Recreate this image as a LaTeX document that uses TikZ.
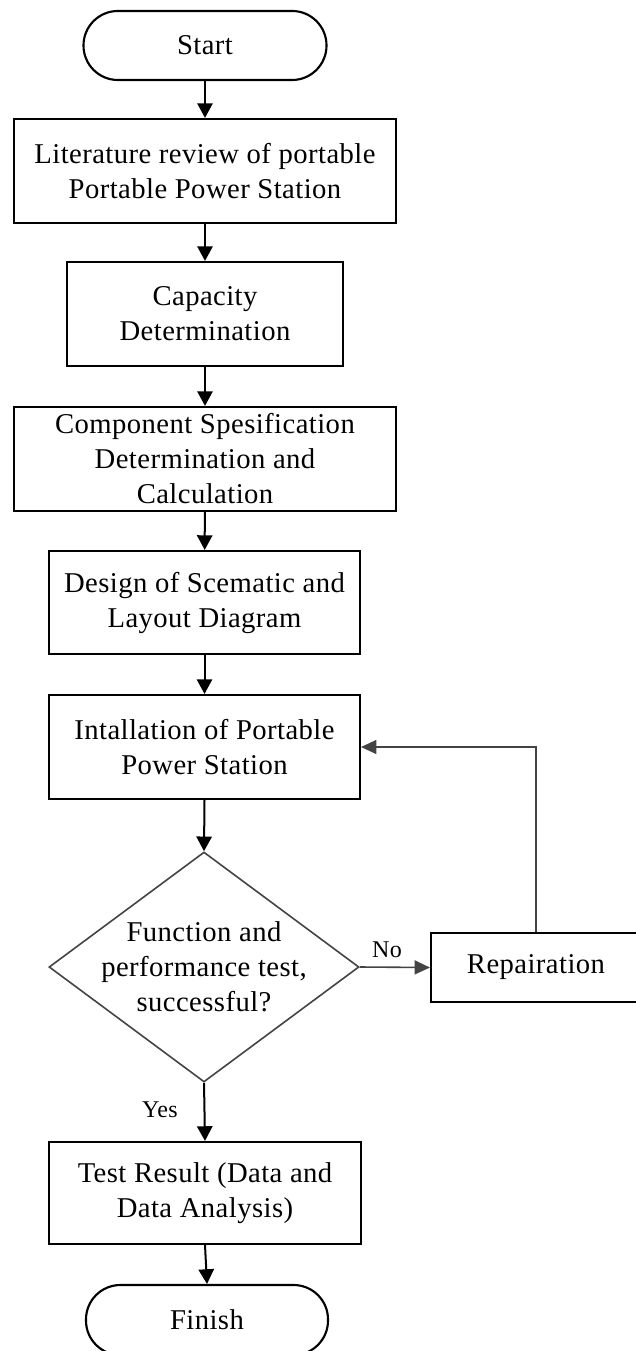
\documentclass[tikz,border=0pt]{standalone}
\usepackage{fontspec}
\setmainfont{Liberation Serif}[LetterSpace=1.5]
\usetikzlibrary{shapes.geometric,arrows.meta}
\definecolor{lg}{RGB}{68,68,68}
\begin{document}
\begin{tikzpicture}[x=0.75pt,y=-0.75pt,
  box/.style={draw=black,line width=1.6pt,align=center,inner sep=0pt,
    font=\fontsize{21.5}{26.25}\selectfont},
  term/.style={box,rounded corners=25.8pt},
  dia/.style={shape=diamond,draw=lg,line width=1.2pt,inner sep=0pt,
    minimum width=232.5pt,minimum height=172.5pt},
  lbl/.style={inner sep=0pt,font=\fontsize{18}{21}\selectfont},
  flow/.style={draw=black,line width=1.5pt,-{Triangle[length=11pt,width=11.5pt]}},
  gflow/.style={draw=lg,line width=1.2pt,-{Triangle[length=11.5pt,width=10.5pt]}},
]
\useasboundingbox (0,0) rectangle (635,1351);
\fill[white] (0,0) rectangle (635,1351);

\node[term,minimum width=182.25pt,minimum height=51.75pt] (start) at (205,45.5) {Start};
\node[box,minimum width=286.5pt,minimum height=78pt] (lit) at (205,171)
  {Literature review of portable\\Portable Power Station};
\node[box,minimum width=207pt,minimum height=78pt] (cap) at (205,314)
  {Capacity\\Determination};
\node[box,minimum width=286.5pt,minimum height=78pt] (comp) at (205,459)
  {Component Spesification\\Determination and\\Calculation};
\node[box,minimum width=233.25pt,minimum height=77.25pt] (design) at (204.5,602.5)
  {Design of Scematic and\\Layout Diagram};
\node[box,minimum width=233.25pt,minimum height=78pt] (inst) at (204.5,747)
  {Intallation of Portable\\Power Station};
\node[dia,label={[align=center,inner sep=0pt,font=\fontsize{21.5}{26.25}\selectfont]center:{Function and\\performance test,\\successful?}}] (dec) at (204,967) {};
\node[box,minimum width=157.5pt,minimum height=51.75pt] (rep) at (536,967.5) {Repairation};
\node[box,minimum width=234pt,minimum height=76.5pt] (test) at (205,1193)
  {Test Result (Data and\\Data Analysis)};
\node[term,minimum width=181.5pt,minimum height=52.5pt] (fin) at (207,1320) {Finish};

\node[lbl] (no) at (387,950) {No};
\node[lbl] (yes) at (160,1110) {Yes};

\draw[flow] (start) -- (lit);
\draw[flow] (lit) -- (cap);
\draw[flow] (cap) -- (comp);
\draw[flow] (comp) -- (design);
\draw[flow] (design) -- (inst);
\draw[flow] (inst.south) -- (dec.north);
\draw[flow] (dec.south) -- (test.north);
\draw[flow] (test.south) -- (fin.north);
\draw[gflow] (dec.east) -- (rep.west);
\draw[gflow] (rep.north) |- (inst.east);
\end{tikzpicture}
\end{document}
